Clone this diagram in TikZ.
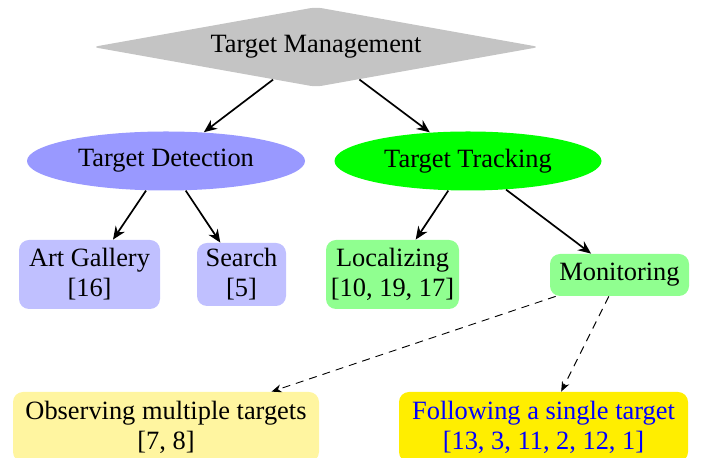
\documentclass[tikz,border=0pt]{standalone}
\usepackage{fontspec}
\setmainfont{Liberation Serif}
\usetikzlibrary{shapes.geometric,arrows.meta}
\definecolor{dgray}{RGB}{196,196,196}
\definecolor{tdblue}{RGB}{153,153,255}
\definecolor{ttgreen}{RGB}{0,255,0}
\definecolor{lblue}{RGB}{192,192,255}
\definecolor{lgreen}{RGB}{144,255,144}
\definecolor{lyellow}{RGB}{255,245,160}
\definecolor{dyellow}{RGB}{255,238,0}
\definecolor{tblue}{RGB}{0,0,255}
\tikzset{
  every node/.style={font=\fontsize{13.2}{15}\selectfont, inner sep=0pt, align=center},
  leaf/.style={rounded corners=5pt, draw=none},
  ell/.style={ellipse, draw=none},
  solidarrow/.style={-{Stealth[length=6.5pt,width=5.5pt]}, line width=0.85pt},
  dasharrow/.style={-{Stealth[length=5pt,width=4pt]}, line width=0.45pt, dashed, dash pattern=on 4pt off 3pt}
}
\begin{document}
\begin{tikzpicture}[x=0.5pt,y=-0.5pt]
\useasboundingbox (0,0) rectangle (702,458);
\clip (0,0) rectangle (702,458);
\node[diamond, fill=dgray, shape aspect=5.59, minimum width=223.5pt, minimum height=40pt, rounded corners=3pt] (tm) at (316,47) {};
\node (tmtext) at (316,47) {Target Management};
\node[ell, fill=tdblue, minimum width=139pt, minimum height=29.5pt] (td) at (166,161) {Target Detection};
\node[ell, fill=ttgreen, minimum width=133.5pt, minimum height=29.5pt] (tt) at (468,161) {Target Tracking};
\node[leaf, fill=lblue, minimum width=70.5pt, minimum height=34.5pt] (ag) at (89.5,274.5) {Art Gallery\\{}[16]};
\node[leaf, fill=lblue, minimum width=44.5pt, minimum height=31.5pt] (se) at (241.5,274.5) {Search\\{}[5]};
\node[leaf, fill=lgreen, minimum width=66.5pt, minimum height=34.5pt] (lo) at (392.5,274.5) {Localizing\\{}[10, 19, 17]};
\node[leaf, fill=lgreen, minimum width=69.5pt, minimum height=21pt] (mo) at (619.5,275) {Monitoring};
\node[leaf, fill=lyellow, minimum width=153pt, minimum height=35pt] (ob) at (166,427) {Observing multiple targets\\{}[7, 8]};
\node[leaf, fill=dyellow, text=tblue, minimum width=144.5pt, minimum height=35pt] (fo) at (543.5,427) {Following a single target\\{}[13, 3, 11, 2, 12, 1]};
\draw[solidarrow] (tm) -- (td);
\draw[solidarrow] (tm) -- (tt);
\draw[solidarrow] (td) -- (ag);
\draw[solidarrow] (td) -- (se);
\draw[solidarrow] (tt) -- (lo);
\draw[solidarrow] (tt) -- (mo);
\draw[dasharrow] (mo) -- (ob);
\draw[dasharrow] (mo) -- (fo);
\end{tikzpicture}
\end{document}
